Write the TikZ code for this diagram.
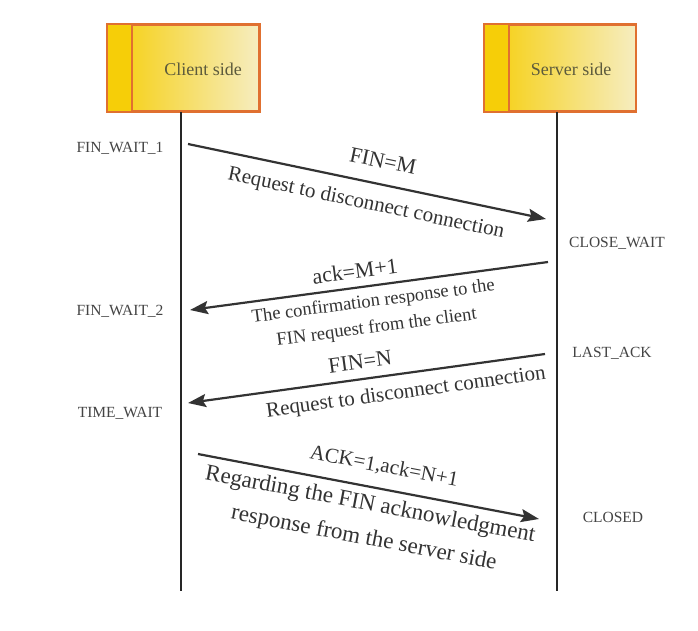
\documentclass[tikz,border=0pt]{standalone}
\usepackage{fontspec}
\setmainfont{Liberation Serif}
\usetikzlibrary{arrows.meta}
\definecolor{boxedge}{HTML}{E07030}
\definecolor{boxdark}{HTML}{F6CE08}
\definecolor{boxlight}{HTML}{F6EDC0}
\definecolor{boxtext}{HTML}{5C5A3C}
\definecolor{arrowcol}{HTML}{333333}
\definecolor{statecol}{HTML}{444444}
\tikzset{
  actor/.style={draw=boxedge, line width=1.6pt, minimum width=151pt, minimum height=86pt,
    left color=boxdark, right color=boxlight, inner sep=0pt},
  actortext/.style={text=boxtext, font=\fontsize{18}{20}\selectfont},
  lifeline/.style={draw=black!85, line width=1.4pt},
  msg/.style={draw=arrowcol, line width=2.2pt, -{Stealth[length=18pt,width=13pt,inset=3pt]}},
  state/.style={text=statecol, font=\fontsize{15.5}{17}\selectfont},
  big/.style={text=arrowcol, inner sep=0pt, font=\fontsize{22}{24}\selectfont},
  desc/.style={text=arrowcol, inner sep=0pt, font=\fontsize{21}{24}\selectfont, align=center},
  descs/.style={text=arrowcol, inner sep=0pt, font=\fontsize{18.5}{26}\selectfont, align=center},
  descl/.style={text=arrowcol, inner sep=0pt, font=\fontsize{23}{34}\selectfont, align=center},
}
\begin{document}
\begin{tikzpicture}[x=1pt,y=-1pt]
\useasboundingbox (0,0) rectangle (698,630);
\fill[white] (0,0) rectangle (698,630);
% actors
\node[actor] (client) at (183.5,68) {};
\fill[boxdark] (client.north west) rectangle ([xshift=25pt]client.south west);
\draw[boxedge, line width=1.6pt] (client.north west) rectangle (client.south east);
\draw[boxedge, line width=1.6pt] ([xshift=25pt]client.north west) -- ([xshift=25pt]client.south west);
\node[actortext] (clientlbl) at (203,69) {Client side};
\node[actor] (server) at (560,68) {};
\fill[boxdark] (server.north west) rectangle ([xshift=25pt]server.south west);
\draw[boxedge, line width=1.6pt] (server.north west) rectangle (server.south east);
\draw[boxedge, line width=1.6pt] ([xshift=25pt]server.north west) -- ([xshift=25pt]server.south west);
\node[actortext] (serverlbl) at (571,69) {Server side};
% lifelines
\coordinate (cend) at (181,591);
\coordinate (send) at (557,591);
\draw[lifeline] (client.south -| cend) -- (cend);
\draw[lifeline] (server.south -| send) -- (send);
% message end points
\coordinate (m1a) at (188,144);
\coordinate (m1b) at (546,219);
\coordinate (m2a) at (548,262);
\coordinate (m2b) at (190,310);
\coordinate (m3a) at (545,354);
\coordinate (m3b) at (188,403);
\coordinate (m4a) at (198,454);
\coordinate (m4b) at (539,519);
\draw[msg] (m1a) -- (m1b);
\draw[msg] (m2a) -- (m2b);
\draw[msg] (m3a) -- (m3b);
\draw[msg] (m4a) -- (m4b);
% labels
\node[big, rotate=-11.9] (l1) at (383,161) {FIN=M};
\node[desc, rotate=-11.9] (d1) at (366,204) {Request to disconnect connection};
\node[big, rotate=7.5] (l2) at (355,271) {ack=M+1};
\node[descs, rotate=7.5] (d2) at (375,315) {The confirmation response to the\\FIN request from the client};
\node[big, rotate=7.8] (l3) at (360,362) {FIN=N};
\node[desc, rotate=7.8] (d3) at (406,393) {Request to disconnect connection};
\node[desc, rotate=-10.8] (l4) at (384,467) {ACK=1,ack=N+1};
\node[descl, rotate=-10.8] (d4) at (367,522) {Regarding the FIN acknowledgment\\response from the server side};
% states
\node[state] (s1) at (120,148) {FIN\_WAIT\_1};
\node[state] (s2) at (120,311) {FIN\_WAIT\_2};
\node[state] (s3) at (120,413) {TIME\_WAIT};
\node[state] (s4) at (617,243) {CLOSE\_WAIT};
\node[state] (s5) at (612,353) {LAST\_ACK};
\node[state] (s6) at (613,517) {CLOSED};
\end{tikzpicture}
\end{document}
